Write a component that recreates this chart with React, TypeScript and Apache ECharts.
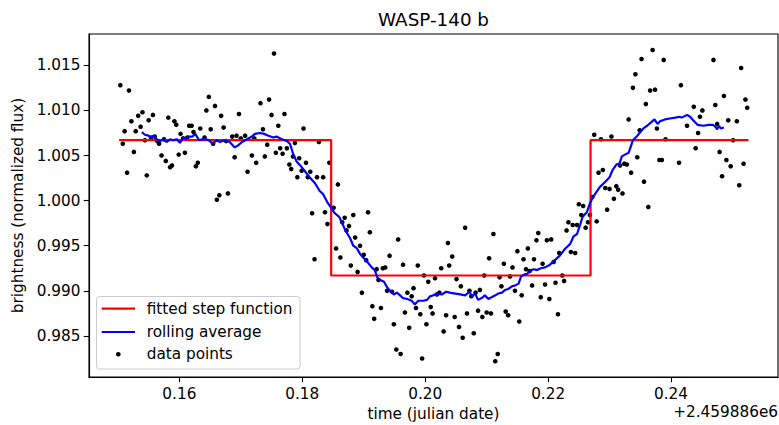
import React, { useEffect, useRef } from "react";
import * as echarts from "echarts";

// ---- data (time offset from 2459886, normalized flux) ----
const dataTimes = [
  0.1504, 0.1508, 0.1511, 0.1515, 0.1518, 0.1522, 0.1526, 0.1529, 0.1533, 0.1537,
  0.1540, 0.1544, 0.1547, 0.1550, 0.1554, 0.1557, 0.1560, 0.1564, 0.1567, 0.1571,
  0.1575, 0.1578, 0.1582, 0.1585, 0.1588, 0.1592, 0.1595, 0.1599, 0.1602, 0.1606,
  0.1609, 0.1613, 0.1616, 0.1620, 0.1623, 0.1627, 0.1630, 0.1634, 0.1641, 0.1644,
  0.1648, 0.1651, 0.1655, 0.1658, 0.1661, 0.1665, 0.1668, 0.1672, 0.1676, 0.1679,
  0.1686, 0.1690, 0.1693, 0.1697, 0.1700, 0.1707, 0.1711, 0.1718, 0.1722, 0.1725,
  0.1732, 0.1736, 0.1739, 0.1743, 0.1746, 0.1750, 0.1754, 0.1757, 0.1761, 0.1764,
  0.1768, 0.1771, 0.1775, 0.1779, 0.1782, 0.1785, 0.1788, 0.1792, 0.1795, 0.1799,
  0.1802, 0.1806, 0.1809, 0.1813, 0.1816, 0.1820, 0.1824, 0.1827, 0.1834, 0.1837,
  0.1841, 0.1844, 0.1851, 0.1855, 0.1858, 0.1862, 0.1865, 0.1869, 0.1872, 0.1876,
  0.1879, 0.1883, 0.1886, 0.1890, 0.1894, 0.1897, 0.1900, 0.1904, 0.1907, 0.1910,
  0.1914, 0.1917, 0.1921, 0.1924, 0.1928, 0.1931, 0.1935, 0.1938, 0.1942, 0.1946,
  0.1949, 0.1953, 0.1956, 0.1960, 0.1964, 0.1967, 0.1971, 0.1974, 0.1978, 0.1981,
  0.1985, 0.1988, 0.1992, 0.1995, 0.1998, 0.2002, 0.2005, 0.2009, 0.2012, 0.2016,
  0.2019, 0.2023, 0.2026, 0.2030, 0.2034, 0.2037, 0.2039, 0.2044, 0.2048, 0.2051,
  0.2055, 0.2058, 0.2061, 0.2065, 0.2068, 0.2072, 0.2075, 0.2079, 0.2082, 0.2086,
  0.2089, 0.2093, 0.2096, 0.2100, 0.2104, 0.2107, 0.2111, 0.2114, 0.2118, 0.2121,
  0.2124, 0.2128, 0.2131, 0.2135, 0.2138, 0.2142, 0.2146, 0.2150, 0.2153, 0.2157,
  0.2160, 0.2164, 0.2167, 0.2170, 0.2174, 0.2177, 0.2181, 0.2184, 0.2188, 0.2191,
  0.2195, 0.2198, 0.2202, 0.2205, 0.2209, 0.2212, 0.2216, 0.2218, 0.2223, 0.2226,
  0.2230, 0.2233, 0.2237, 0.2240, 0.2244, 0.2247, 0.2250, 0.2254, 0.2257, 0.2261,
  0.2265, 0.2268, 0.2272, 0.2275, 0.2279, 0.2282, 0.2286, 0.2289, 0.2293, 0.2296,
  0.2300, 0.2303, 0.2307, 0.2311, 0.2314, 0.2317, 0.2321, 0.2324, 0.2328, 0.2331,
  0.2335, 0.2338, 0.2342, 0.2345, 0.2349, 0.2352, 0.2356, 0.2359, 0.2363, 0.2366,
  0.2370, 0.2374, 0.2377, 0.2381, 0.2385, 0.2388, 0.2391, 0.2413, 0.2416, 0.2426,
  0.2437, 0.2440, 0.2444, 0.2447, 0.2451, 0.2469, 0.2472, 0.2475, 0.2479, 0.2483,
  0.2486, 0.2490, 0.2493, 0.2497, 0.2501, 0.2507, 0.2511, 0.2514, 0.2518, 0.2521,
  0.2524,
];
const dataFlux = [
  1.0128, 1.0063, 1.0077, 1.0031, 1.0122, 1.0088, 1.0054, 1.0077, 1.0094, 1.0082,
  1.0098, 1.0067, 1.0028, 1.0089, 1.0070, 1.0095, 1.0071, 1.0066, 1.0063, 1.0050,
  1.0068, 1.0044, 1.0092, 1.0037, 1.0039, 1.0088, 1.0084, 1.0051, 1.0074, 1.0069,
  1.0053, 1.0070, 1.0083, 1.0083, 1.0076, 1.0038, 1.0042, 1.0080, 1.0070, 1.0100,
  1.0115, 1.0079, 1.0063, 1.0105, 1.0001, 1.0006, 1.0094, 1.0081, 1.0066, 1.0008,
  1.0071, 1.0048, 1.0072, 1.0096, 1.0069, 1.0072, 1.0032, 1.0050, 1.0069, 1.0042,
  1.0108, 1.0079, 1.0049, 1.0062, 1.0112, 1.0095, 1.0163, 1.0053, 1.0083, 1.0058,
  1.0052, 1.0096, 1.0058, 1.0040, 1.0035, 1.0049, 1.0064, 1.0026, 1.0047, 1.0033,
  1.0080, 1.0042, 1.0026, 1.0032, 0.9986, 0.9935, 1.0026, 1.0065, 1.0026, 0.9987,
  0.9974, 1.0042, 0.9992, 0.9947, 1.0018, 0.9937, 0.9976, 0.9981, 0.9967, 0.9972,
  0.9928, 0.9984, 0.9959, 0.9921, 0.9950, 0.9898, 0.9940, 0.9934, 0.9987, 0.9965,
  0.9883, 0.9869, 0.9924, 0.9912, 0.9881, 0.9925, 0.9926, 0.9900, 0.9939, 0.9899,
  0.9863, 0.9835, 0.9957, 0.9830, 0.9929, 0.9876, 0.9898, 0.9859, 0.9894, 0.9903,
  0.9881, 0.9928, 0.9874, 0.9825, 0.9917, 0.9863, 0.9910, 0.9882, 0.9875, 0.9914,
  0.9896, 0.9898, 0.9925, 0.9855, 0.9873, 0.9953, 0.9928, 0.9938, 0.9871, 0.9913,
  0.9860, 0.9905, 0.9848, 0.9970, 0.9875, 0.9900, 0.9894, 0.9853, 0.9898, 0.9878,
  0.9901, 0.9871, 0.9917, 0.9876, 0.9936, 0.9875, 0.9963, 0.9822, 0.9830, 0.9915,
  0.9905, 0.9930, 0.9877, 0.9873, 0.9916, 0.9926, 0.9900, 0.9944, 0.9866, 0.9895,
  0.9935, 0.9924, 0.9947, 0.9922, 0.9906, 0.9935, 0.9956, 0.9964, 0.9893, 0.9930,
  0.9907, 0.9956, 0.9891, 0.9957, 0.9932, 0.9909, 0.9874, 0.9942, 0.9917, 0.9911,
  0.9967, 0.9976, 0.9943, 0.9973, 0.9942, 0.9973, 0.9996, 0.9984, 0.9994, 0.9970,
  0.9976, 0.9984, 1.0004, 1.0073, 0.9977, 1.0031, 1.0068, 1.0034, 1.0014, 0.9990,
  1.0013, 1.0071, 1.0002, 1.0016, 1.0012, 1.0039, 1.0008, 1.0041, 1.0040, 1.0090,
  1.0031, 1.0125, 1.0140, 1.0048, 1.0078, 1.0157, 1.0021, 1.0107, 0.9993, 1.0122,
  1.0167, 1.0123, 1.0080, 1.0045, 1.0045, 1.0156, 1.0068, 1.0042, 1.0128, 1.0083,
  1.0104, 1.0058, 1.0075, 1.0093, 1.0100, 1.0156, 1.0106, 1.0085, 1.0054, 1.0027,
  1.0116, 1.0045, 1.0089, 1.0038, 1.0067, 1.0088, 1.0017, 1.0147, 1.0041, 1.0112,
  1.0103,
];

const rollingTimes = [
  0.1539, 0.1544, 0.1550, 0.1553, 0.1558, 0.1563, 0.1569, 0.1574, 0.1579, 0.1585,
  0.1590, 0.1596, 0.1601, 0.1607, 0.1611, 0.1615, 0.1621, 0.1626, 0.1632, 0.1637,
  0.1642, 0.1648, 0.1654, 0.1661, 0.1666, 0.1674, 0.1682, 0.1690, 0.1695, 0.1702,
  0.1710, 0.1718, 0.1723, 0.1731, 0.1738, 0.1745, 0.1753, 0.1758, 0.1767, 0.1775,
  0.1780, 0.1785, 0.1791, 0.1798, 0.1805, 0.1813, 0.1821, 0.1828, 0.1834, 0.1841,
  0.1847, 0.1853, 0.1860, 0.1865, 0.1870, 0.1872, 0.1878, 0.1883, 0.1889, 0.1894,
  0.1899, 0.1906, 0.1913, 0.1918, 0.1922, 0.1927, 0.1933, 0.1938, 0.1944, 0.1949,
  0.1954, 0.1959, 0.1964, 0.1971, 0.1978, 0.1983, 0.1989, 0.1997, 0.2003, 0.2008,
  0.2013, 0.2019, 0.2027, 0.2034, 0.2040, 0.2049, 0.2057, 0.2065, 0.2072, 0.2076,
  0.2081, 0.2086, 0.2092, 0.2097, 0.2103, 0.2108, 0.2114, 0.2119, 0.2125, 0.2130,
  0.2135, 0.2141, 0.2146, 0.2152, 0.2156, 0.2161, 0.2166, 0.2172, 0.2177, 0.2182,
  0.2188, 0.2195, 0.2203, 0.2211, 0.2219, 0.2228, 0.2236, 0.2241, 0.2247, 0.2252,
  0.2256, 0.2263, 0.2268, 0.2273, 0.2279, 0.2284, 0.2293, 0.2300, 0.2305, 0.2311,
  0.2316, 0.2320, 0.2325, 0.2331, 0.2338, 0.2344, 0.2350, 0.2355, 0.2361, 0.2368,
  0.2373, 0.2378, 0.2382, 0.2390, 0.2398, 0.2407, 0.2414, 0.2417, 0.2426, 0.2431,
  0.2436, 0.2443, 0.2453, 0.2461, 0.2468, 0.2472, 0.2475, 0.2478, 0.2481, 0.2486,
];
const rollingFlux = [
  1.0076, 1.0073, 1.0072, 1.0070, 1.0072, 1.0068, 1.0066, 1.0068, 1.0065, 1.0068,
  1.0067, 1.0068, 1.0064, 1.0070, 1.0068, 1.0071, 1.0071, 1.0074, 1.0067, 1.0068,
  1.0068, 1.0067, 1.0063, 1.0067, 1.0065, 1.0067, 1.0065, 1.0059, 1.0061, 1.0065,
  1.0068, 1.0071, 1.0074, 1.0075, 1.0074, 1.0072, 1.0070, 1.0071, 1.0068, 1.0066,
  1.0063, 1.0052, 1.0043, 1.0038, 1.0032, 1.0025, 1.0019, 1.0011, 1.0007, 0.9998,
  0.9992, 0.9986, 0.9982, 0.9975, 0.9967, 0.9965, 0.9958, 0.9950, 0.9947, 0.9941,
  0.9937, 0.9932, 0.9926, 0.9923, 0.9915, 0.9912, 0.9910, 0.9904, 0.9899, 0.9896,
  0.9898, 0.9895, 0.9892, 0.9891, 0.9889, 0.9885, 0.9889, 0.9889, 0.9890, 0.9894,
  0.9895, 0.9897, 0.9896, 0.9899, 0.9898, 0.9897, 0.9896, 0.9895, 0.9899, 0.9894,
  0.9897, 0.9890, 0.9892, 0.9895, 0.9891, 0.9893, 0.9895, 0.9897, 0.9898, 0.9901,
  0.9902, 0.9905, 0.9906, 0.9908, 0.9916, 0.9918, 0.9919, 0.9923, 0.9924, 0.9923,
  0.9925, 0.9926, 0.9929, 0.9934, 0.9939, 0.9947, 0.9952, 0.9960, 0.9963, 0.9973,
  0.9982, 0.9987, 0.9997, 1.0004, 1.0010, 1.0015, 1.0021, 1.0026, 1.0034, 1.0040,
  1.0041, 1.0049, 1.0051, 1.0053, 1.0067, 1.0071, 1.0076, 1.0080, 1.0083, 1.0087,
  1.0090, 1.0085, 1.0088, 1.0090, 1.0091, 1.0092, 1.0093, 1.0092, 1.0095, 1.0093,
  1.0089, 1.0084, 1.0083, 1.0084, 1.0084, 1.0082, 1.0079, 1.0083, 1.0080, 1.0081,
];

const stepTimes = [0.1502, 0.1847, 0.1847, 0.2269, 0.2269, 0.2526];
const stepFlux = [1.0067, 1.0067, 0.9917, 0.9917, 1.0067, 1.0067];

const xTicks = [0.16, 0.18, 0.2, 0.22, 0.24];
const yTicks = [0.985, 0.99, 0.995, 1.0, 1.005, 1.01, 1.015];

const titleText = "WASP-140 b";
const xLabelText = "time (julian date)";
const yLabelText = "brightness (normalized flux)";
const xOffsetText = "+2.459886e6";
const legendNames = ["fitted step function", "rolling average", "data points"];

const FONT = "'DejaVu Sans', 'Liberation Sans', sans-serif";
const FS = 15.28;
const TITLE_FS = 18.33;
const LW = 2.2;

export default function App() {
  const ref = useRef<HTMLDivElement>(null);

  useEffect(() => {
    if (!ref.current) return;
    const chart = echarts.init(ref.current, undefined, { renderer: "svg" });

    const scatterData = dataTimes.map((t, i) => [t, dataFlux[i]]);
    const rollingData = rollingTimes.map((t, i) => [t, rollingFlux[i]]);
    const stepData = stepTimes.map((t, i) => [t, stepFlux[i]]);

    const legendX = 96.5;
    const legendY = 296.5;
    const rows = [308.7, 332, 354.3];

    const textStyle = (text: string, align: string) => ({
      text,
      fontSize: FS,
      fontFamily: FONT,
      fill: "#000000",
      align,
      verticalAlign: "middle",
    });

    const option: any = {
      animation: false,
      backgroundColor: "#ffffff",
      textStyle: { fontFamily: FONT },
      grid: {
        left: 89,
        right: 1,
        top: 34,
        bottom: 48,
        containLabel: false,
        outerBoundsMode: "none",
        show: true,
        borderColor: "#000000",
        borderWidth: 1.1,
        backgroundColor: "transparent",
      },
      xAxis: {
        type: "value",
        min: 0.1453,
        max: 0.2574,
        axisLine: { show: true, onZero: false, lineStyle: { color: "#000000", width: 1.1 } },
        axisTick: {
          show: true,
          inside: false,
          length: 5.3,
          customValues: xTicks,
          lineStyle: { color: "#000000", width: 1.1 },
        },
        axisLabel: {
          show: true,
          customValues: xTicks,
          formatter: (v: number) => v.toFixed(2),
          color: "#000000",
          fontSize: FS,
          fontFamily: FONT,
          margin: 9.5,
        },
        splitLine: { show: false },
      },
      yAxis: {
        type: "value",
        min: 0.98045,
        max: 1.01847,
        axisLine: { show: true, onZero: false, lineStyle: { color: "#000000", width: 1.1 } },
        axisTick: {
          show: true,
          inside: false,
          length: 5.3,
          customValues: yTicks,
          lineStyle: { color: "#000000", width: 1.1 },
        },
        axisLabel: {
          show: true,
          customValues: yTicks,
          formatter: (v: number) => v.toFixed(3),
          color: "#000000",
          fontSize: FS,
          fontFamily: FONT,
          margin: 8.5,
        },
        splitLine: { show: false },
      },
      series: [
        {
          name: legendNames[2],
          type: "scatter",
          data: scatterData,
          symbol: "circle",
          symbolSize: 4.6,
          itemStyle: { color: "#000000", opacity: 1 },
          z: 1,
          silent: true,
        },
        {
          name: legendNames[0],
          type: "line",
          data: stepData,
          symbol: "none",
          showSymbol: false,
          lineStyle: { color: "#ff0000", width: LW },
          z: 3,
          silent: true,
        },
        {
          name: legendNames[1],
          type: "line",
          data: rollingData,
          symbol: "none",
          showSymbol: false,
          lineStyle: { color: "#0000ff", width: LW },
          z: 4,
          silent: true,
        },
      ],
      graphic: [
        {
          type: "text",
          x: 433.5,
          y: 19.5,
          style: { ...textStyle(titleText, "center"), fontSize: TITLE_FS },
        },
        {
          type: "text",
          x: 433.5,
          y: 414,
          style: textStyle(xLabelText, "center"),
        },
        {
          type: "text",
          x: 778,
          y: 411.5,
          style: textStyle(xOffsetText, "right"),
        },
        {
          type: "text",
          x: 18,
          y: 205.5,
          rotation: Math.PI / 2,
          style: textStyle(yLabelText, "center"),
        },
        {
          type: "group",
          z: 100,
          children: [
            {
              type: "rect",
              z: 100,
              shape: { x: legendX, y: legendY, width: 203.5, height: 72.5, r: 3 },
              style: { fill: "rgba(255,255,255,0.8)", stroke: "#cccccc", lineWidth: 1 },
            },
            {
              type: "line",
              z: 101,
              shape: { x1: 101.7, y1: rows[0], x2: 135, y2: rows[0] },
              style: { stroke: "#ff0000", lineWidth: LW },
            },
            {
              type: "line",
              z: 101,
              shape: { x1: 101.7, y1: rows[1], x2: 135, y2: rows[1] },
              style: { stroke: "#0000ff", lineWidth: LW },
            },
            {
              type: "circle",
              z: 101,
              shape: { cx: 118.3, cy: rows[2], r: 2.3 },
              style: { fill: "#000000" },
            },
            ...legendNames.map((name, i) => ({
              type: "text",
              z: 101,
              x: 146.7,
              y: rows[i],
              style: textStyle(name, "left"),
            })),
          ],
        },
      ],
    };

    chart.setOption(option);
    return () => {
      chart.dispose();
    };
  }, []);

  return (
    <div
      ref={ref}
      style={{ position: "fixed", left: 0, top: 0, width: 779, height: 425 }}
    />
  );
}
